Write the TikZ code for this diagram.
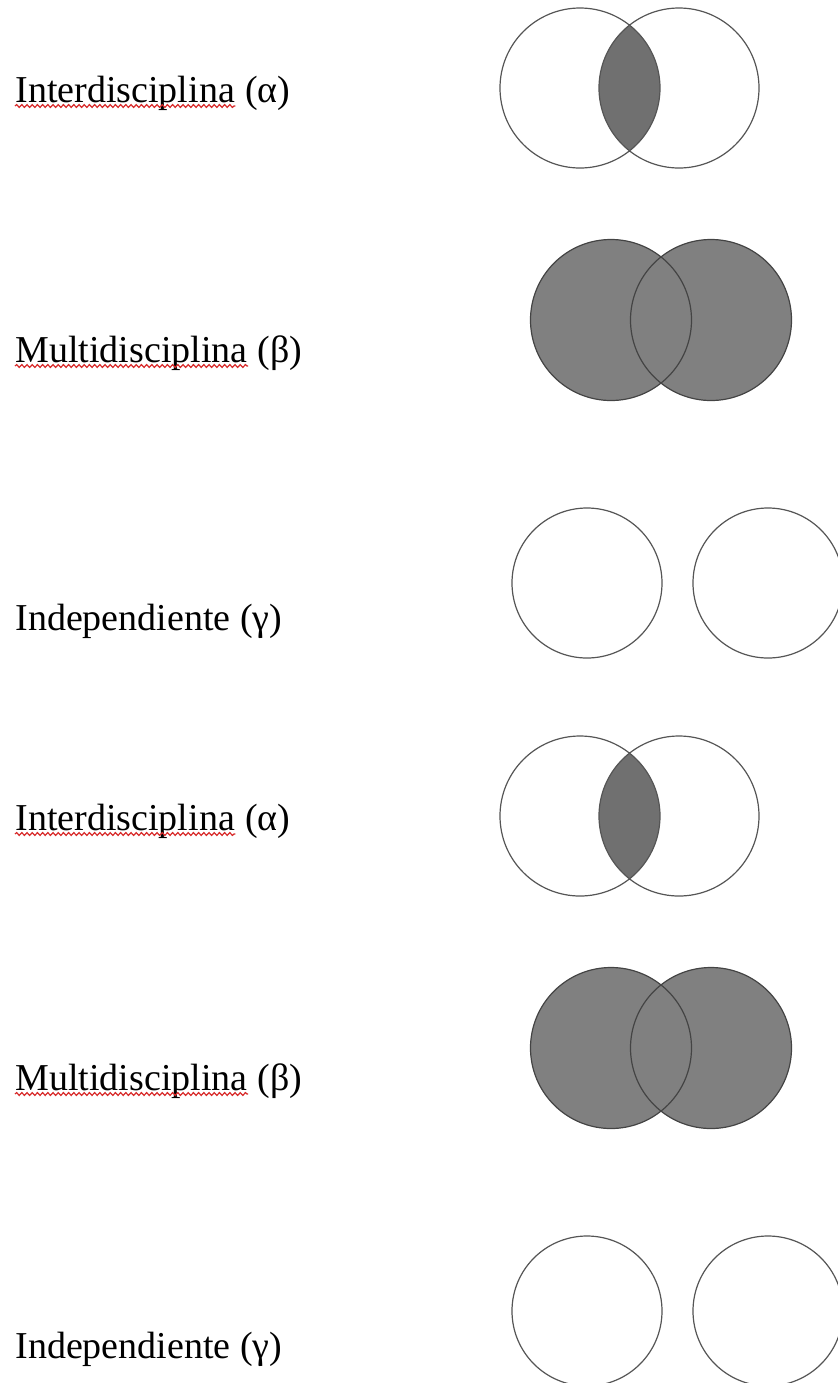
\documentclass[tikz,border=0pt]{standalone}
\usepackage{fontspec}
\setmainfont{Liberation Serif}
\usetikzlibrary{positioning,decorations.pathmorphing}
\definecolor{ringgray}{RGB}{85,85,85}
\definecolor{lensgray}{RGB}{112,112,112}
\definecolor{setgray}{RGB}{128,128,128}
\definecolor{squigred}{RGB}{215,40,40}

\begin{document}
\begin{tikzpicture}[x=0.5pt,y=-0.5pt,
    lbl/.style={inner sep=0pt,anchor=base west,font=\fontsize{19}{22}\selectfont},
    ring/.style={draw=ringgray,line width=0.6pt},
    squig/.style={draw=squigred,line width=0.6pt,decorate,decoration={snake,amplitude=0.7pt,segment length=2.6pt}}] %
    \useasboundingbox (0,0) rectangle (837,1383); %
  \foreach \dy in {0,728} {
    % alpha: only the overlap is shaded
    \coordinate (a1) at (580,88+\dy); \coordinate (a2) at (679,88+\dy);
    \begin{scope} \clip (a1) circle (40pt); \fill[lensgray] (a2) circle (40pt); \end{scope}
    \draw[ring] (a1) circle (40pt) (a2) circle (40pt);
    \node[lbl] (inter) at (15,102+\dy) {Interdisciplina};
    \node[lbl, right=4.75pt of inter.base east, anchor=base west] (alpha) {(α)};
    \draw[squig] ([yshift=-2pt]inter.base west) -- ([yshift=-2pt]inter.base east);
    % beta: both sets shaded
    \coordinate (b1) at (611,320+\dy); \coordinate (b2) at (711,320+\dy);
    \fill[setgray] (b1) circle (40.25pt) (b2) circle (40.25pt);
    \draw[ring,draw=ringgray!80!black] (b1) circle (40.25pt) (b2) circle (40.25pt);
    \node[lbl] (multi) at (15,362+\dy) {Multidisciplina};
    \node[lbl, right=4.75pt of multi.base east, anchor=base west] (beta) {(β)};
    \draw[squig] ([yshift=-2pt]multi.base west) -- ([yshift=-2pt]multi.base east);
    % gamma: disjoint sets
    \coordinate (g1) at (587,583+\dy); \coordinate (g2) at (768,583+\dy);
    \draw[ring] (g1) circle (37.5pt) (g2) circle (37.5pt);
    \node[lbl] (indep) at (15,630+\dy) {Independiente (γ)};
  }
\end{tikzpicture}
\end{document}
